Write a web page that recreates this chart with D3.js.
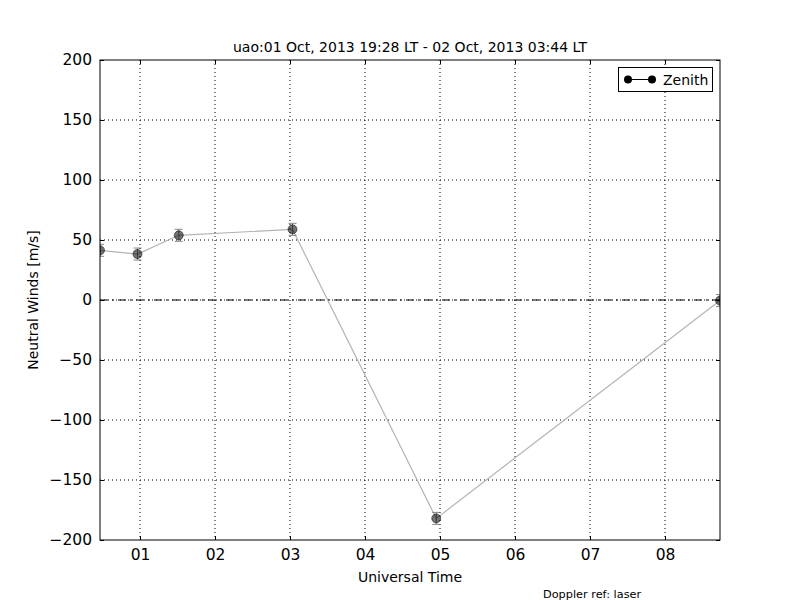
<!DOCTYPE html>
<html><head><meta charset="utf-8">
<script src="https://cdn.jsdelivr.net/npm/d3@7"></script>
<style>body{margin:0;background:#fff;} text{font-family:"DejaVu Sans",sans-serif;}</style>
</head><body>
<svg id="c" width="800" height="600"></svg>
<script>
const times = ["00:28","00:58","01:31","03:02","04:57","08:44"];
const winds = [41.4, 38.3, 53.9, 58.9, -182.0, -0.5];
const errors = [5, 5, 5, 5, 5, 5];
const xTickHours = [1,2,3,4,5,6,7,8];
const xTickLabels = ["01","02","03","04","05","06","07","08"];
const yTicks = [-200,-150,-100,-50,0,50,100,150,200];
const xDomain = ["00:28","08:44"];
const titleText = "uao:01 Oct, 2013 19:28 LT - 02 Oct, 2013 03:44 LT";

const toH = s => { const [h,m] = s.split(":").map(Number); return h + m/60; };
const svg = d3.select("#c");
const L=100,R=720,T=60,B=540;
const x = d3.scaleLinear().domain(xDomain.map(toH)).range([L,R]);
const y = d3.scaleLinear().domain([-200,200]).range([B,T]);
const data = times.map((t,i)=>({h:toH(t), v:winds[i], e:errors[i]}));

svg.append("defs").append("clipPath").attr("id","clip").append("rect")
 .attr("x",L).attr("y",T).attr("width",R-L).attr("height",B-T);

// grid
const g = svg.append("g");
g.selectAll(".gx").data(xTickHours).enter().append("line")
 .attr("x1",d=>x(d)).attr("x2",d=>x(d)).attr("y1",T).attr("y2",B)
 .attr("stroke","#000").attr("stroke-width",1).attr("stroke-dasharray","1,3");
g.selectAll(".gy").data(yTicks.slice(1,-1)).enter().append("line")
 .attr("x1",L).attr("x2",R).attr("y1",d=>y(d)).attr("y2",d=>y(d))
 .attr("stroke","#000").attr("stroke-width",1).attr("stroke-dasharray","1,3");

// zero line
svg.append("line").attr("x1",L).attr("x2",R).attr("y1",y(0)).attr("y2",y(0))
 .attr("stroke","#000").attr("stroke-width",1).attr("stroke-dasharray","8,4,2,4");

// data line
const plot = svg.append("g").attr("clip-path","url(#clip)");
plot.append("path").datum(data)
 .attr("d", d3.line().x(d=>x(d.h)).y(d=>y(d.v)))
 .attr("fill","none").attr("stroke","#b3b3b3").attr("stroke-width",1.2);
// error bars
const eb = plot.selectAll(".eb").data(data).enter().append("g").attr("stroke","#555").attr("stroke-width",1).attr("opacity",0.7);
eb.append("line").attr("x1",d=>x(d.h)).attr("x2",d=>x(d.h)).attr("y1",d=>y(d.v-d.e)).attr("y2",d=>y(d.v+d.e));
eb.append("line").attr("x1",d=>x(d.h)-4).attr("x2",d=>x(d.h)+4).attr("y1",d=>y(d.v-d.e)).attr("y2",d=>y(d.v-d.e));
eb.append("line").attr("x1",d=>x(d.h)-4).attr("x2",d=>x(d.h)+4).attr("y1",d=>y(d.v+d.e)).attr("y2",d=>y(d.v+d.e));
plot.selectAll("circle").data(data).enter().append("circle")
 .attr("cx",d=>x(d.h)).attr("cy",d=>y(d.v)).attr("r",4.5)
 .attr("fill","#000").attr("fill-opacity",0.55).attr("stroke","#000").attr("stroke-opacity",0.5);

// frame
svg.append("rect").attr("x",L).attr("y",T).attr("width",R-L).attr("height",B-T)
 .attr("fill","none").attr("stroke","#000").attr("stroke-width",1);

// axes (ticks inward, both sides)
const xb = svg.append("g").attr("transform",`translate(0,${B})`)
 .call(d3.axisBottom(x).tickValues(xTickHours).tickFormat((d,i)=>xTickLabels[i]).tickSizeInner(-4).tickSizeOuter(0).tickPadding(9));
const xt = svg.append("g").attr("transform",`translate(0,${T})`)
 .call(d3.axisTop(x).tickValues(xTickHours).tickFormat("").tickSizeInner(-4).tickSizeOuter(0));
const yl = svg.append("g").attr("transform",`translate(${L},0)`)
 .call(d3.axisLeft(y).tickValues(yTicks).tickFormat(d=>d<0?"\u2212"+Math.abs(d):d).tickSizeInner(-4).tickSizeOuter(0).tickPadding(8));
const yr = svg.append("g").attr("transform",`translate(${R},0)`)
 .call(d3.axisRight(y).tickValues(yTicks).tickFormat("").tickSizeInner(-4).tickSizeOuter(0));
[xb,xt,yl,yr].forEach(a=>{a.select(".domain").remove(); a.selectAll("line").attr("stroke","#000");
 a.selectAll("text").attr("font-size",15.5).attr("fill","#000").attr("font-family","DejaVu Sans");});

// labels
svg.append("text").attr("x",410).attr("y",52).attr("text-anchor","middle").attr("font-size",14).text(titleText);
svg.append("text").attr("x",410).attr("y",582).attr("text-anchor","middle").attr("font-size",14).text("Universal Time");
svg.append("text").attr("transform","translate(38,300) rotate(-90)").attr("text-anchor","middle").attr("font-size",14).text("Neutral Winds [m/s]");
svg.append("text").attr("x",543).attr("y",598).attr("font-size",11.3).text("Doppler ref: laser");

// legend
const lg = svg.append("g");
lg.append("rect").attr("x",618.5).attr("y",67.5).attr("width",94).attr("height",24).attr("fill","#fff").attr("stroke","#000");
lg.append("line").attr("x1",628).attr("x2",652).attr("y1",79.5).attr("y2",79.5).attr("stroke","#000");
[628,652].forEach(cx=>lg.append("circle").attr("cx",cx).attr("cy",79.5).attr("r",4).attr("fill","#000"));
lg.append("text").attr("x",663).attr("y",84.5).attr("font-size",14).text("Zenith");
</script>
</body></html>
